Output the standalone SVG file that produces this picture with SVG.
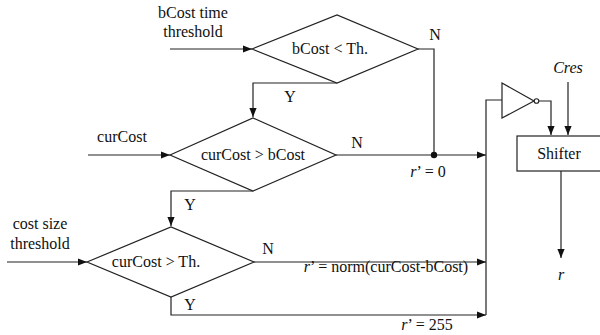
<svg xmlns="http://www.w3.org/2000/svg" width="600" height="335" viewBox="0 0 600 335">
<defs>
<style>
text{font-family:"Liberation Serif","Times New Roman",serif;font-size:16px;fill:#111}
.it{font-style:italic}
.ln{fill:none;stroke:#222;stroke-width:1.2}
.sh{fill:#fff;stroke:#222;stroke-width:1.2}
</style>
<marker id="ar" viewBox="0 0 10 10" refX="10" refY="5" markerWidth="9" markerHeight="9" markerUnits="userSpaceOnUse" orient="auto">
<path d="M0,1 L10,5 L0,9 Z" fill="#111"/>
</marker>
</defs>
<rect width="600" height="335" fill="#fff"/>

<g id="connectors">
<path class="ln" d="M170,49 H252" marker-end="url(#ar)"/>
<path class="ln" d="M88,155 H170" marker-end="url(#ar)"/>
<path class="ln" d="M7,262 H87" marker-end="url(#ar)"/>
<path class="ln" d="M418,49 H434 V155"/>
<path class="ln" d="M337,83 H253 V117" marker-end="url(#ar)"/>
<path class="ln" d="M336,155 H486" marker-end="url(#ar)"/>
<circle cx="434" cy="155" r="3.2" fill="#111"/>
<path class="ln" d="M253,191 H171 V226" marker-end="url(#ar)"/>
<path class="ln" d="M254,262 H486" marker-end="url(#ar)"/>
<path class="ln" d="M171,297 V315 H486" marker-end="url(#ar)"/>
<path class="ln" d="M486,315 V100 H502"/>
<path class="ln" d="M539,101 H551 V135" marker-end="url(#ar)"/>
<path class="ln" d="M568,82 V135" marker-end="url(#ar)"/>
<path class="ln" d="M561,171 V258" marker-end="url(#ar)"/>
</g>

<g id="in-bcost-th">
<text x="193" y="18" text-anchor="middle">bCost time</text>
<text x="193" y="37" text-anchor="middle">threshold</text>
</g>
<g id="in-curcost">
<text x="122" y="142" text-anchor="middle">curCost</text>
</g>
<g id="in-cost-size">
<text x="40" y="229" text-anchor="middle">cost size</text>
<text x="40" y="249" text-anchor="middle">threshold</text>
</g>

<g id="d1">
<polygon class="sh" points="252,49 337,15 418,49 337,83"/>
<text x="330" y="54" text-anchor="middle">bCost &lt; Th.</text>
<text x="435" y="40" text-anchor="middle">N</text>
<text x="290" y="102" text-anchor="middle">Y</text>
</g>

<g id="d2">
<polygon class="sh" points="170,155 253,118 336,155 253,191"/>
<text x="253" y="160" text-anchor="middle">curCost &gt; bCost</text>
<text x="357" y="148" text-anchor="middle">N</text>
<text x="190" y="210" text-anchor="middle">Y</text>
<text x="428" y="177" text-anchor="middle"><tspan class="it">r</tspan>’ = 0</text>
</g>

<g id="d3">
<polygon class="sh" points="87,262 171,227 254,262 171,297"/>
<text x="156" y="267" text-anchor="middle">curCost &gt; Th.</text>
<text x="268" y="254" text-anchor="middle">N</text>
<text x="190" y="310" text-anchor="middle">Y</text>
<text x="386" y="272" text-anchor="middle"><tspan class="it">r</tspan>’ = norm(curCost-bCost)</text>
<text x="427" y="330" text-anchor="middle"><tspan class="it">r</tspan>’ = 255</text>
</g>

<g id="inverter">
<polygon class="sh" points="502,83 502,118 534,101"/>
<circle cx="536.5" cy="101" r="2.3" fill="#fff" stroke="#222" stroke-width="1.1"/>
</g>

<g id="cres">
<text x="568" y="73" text-anchor="middle" class="it" font-size="15">Cres</text>
</g>

<g id="shifter">
<rect class="sh" x="517" y="136" width="85" height="35"/>
<text x="559" y="159" text-anchor="middle">Shifter</text>
</g>

<g id="out-r">
<text x="561" y="280" text-anchor="middle" class="it" font-size="18">r</text>
</g>
</svg>
